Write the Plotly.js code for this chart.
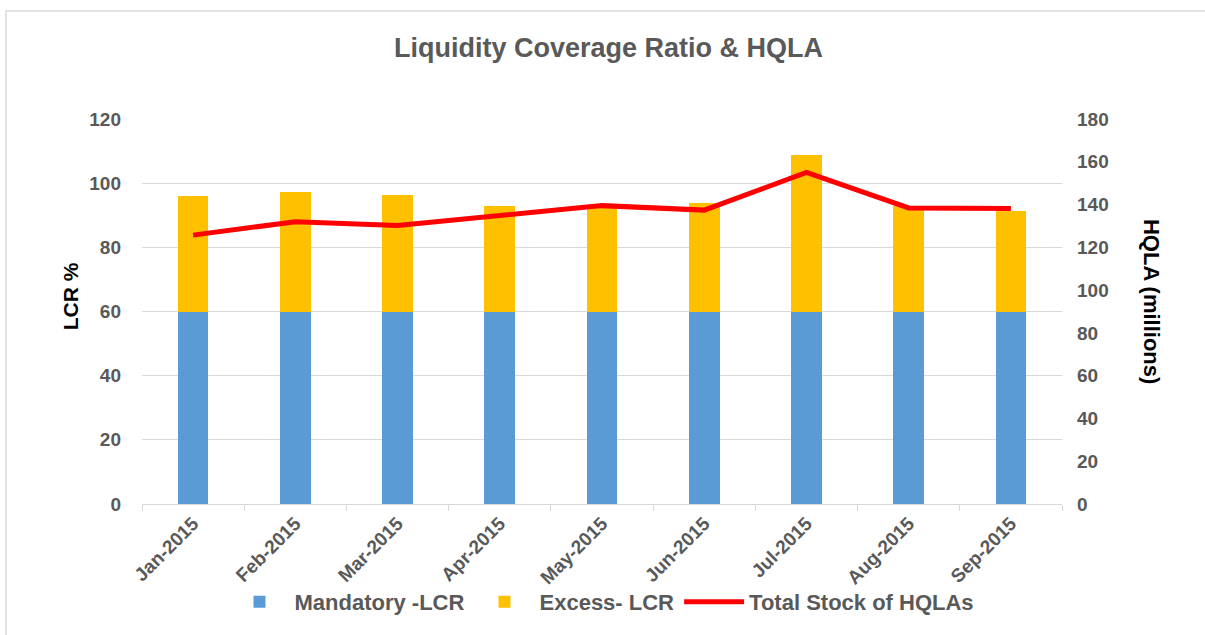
<!DOCTYPE html>
<html>
<head>
<meta charset="utf-8">
<script src="https://cdn.plot.ly/plotly-3.0.1.min.js"></script>
<style>
  html, body { margin: 0; padding: 0; background: #fff; }
  #frame { position: absolute; left: 5px; top: 10px; width: 1200px; height: 625px;
           border-left: 2px solid #e3e3e3; border-top: 2px solid #e3e3e3; }
  #myDiv { position: absolute; left: 0; top: 0; width: 1205px; height: 635px; }
</style>
</head>
<body>
<div id="frame"></div>
<div id="myDiv"></div>
<script>
var months = ['Jan-2015', 'Feb-2015', 'Mar-2015', 'Apr-2015', 'May-2015',
              'Jun-2015', 'Jul-2015', 'Aug-2015', 'Sep-2015'];
var mandatory = [60, 60, 60, 60, 60, 60, 60, 60, 60];
var excess = [36, 37.3, 36.2, 33, 32.3, 33.9, 48.8, 33, 31.3];
var hqla = [125.7, 132, 130.2, 134.9, 139.5, 137.4, 155, 138.4, 138.1];

var grey = '#595959';
var fam = 'Liberation Sans, Arial, sans-serif';
var tickFont = {family: fam, size: 19, color: grey, weight: 'bold'};

var data = [
  {
    x: months, y: mandatory, type: 'bar', name: 'Mandatory -LCR',
    marker: {color: '#5B9BD5'}, width: 0.3
  },
  {
    x: months, y: excess, type: 'bar', name: 'Excess- LCR',
    marker: {color: '#FFC000'}, width: 0.3
  },
  {
    x: months, y: hqla, type: 'scatter', mode: 'lines', name: 'Total Stock of HQLAs',
    yaxis: 'y2', line: {color: '#FF0000', width: 5}
  }
];

var layout = {
  width: 1205, height: 635,
  paper_bgcolor: 'rgba(0,0,0,0)', plot_bgcolor: 'rgba(0,0,0,0)',
  margin: {l: 142, r: 143, t: 119, b: 129},
  barmode: 'stack',
  showlegend: true,
  title: {
    text: 'Liquidity Coverage Ratio &amp; HQLA',
    x: 0.505, xanchor: 'center', y: 0.925, yanchor: 'middle',
    font: {family: fam, size: 27, color: grey, weight: 'bold'}
  },
  xaxis: {
    type: 'category', tickangle: -45, tickfont: tickFont, automargin: false,
    showline: true, linecolor: '#d9d9d9', linewidth: 1,
    ticks: 'outside', tickson: 'boundaries', ticklen: 6, tickcolor: '#d9d9d9',
    showgrid: false, zeroline: false
  },
  yaxis: {
    range: [0, 120], dtick: 20, tickfont: tickFont, automargin: false,
    gridcolor: '#d9d9d9', zeroline: false, ticks: '',
    ticklabelstandoff: 20
  },
  yaxis2: {
    range: [0, 180], dtick: 20, overlaying: 'y', side: 'right', automargin: false,
    tickfont: tickFont, showgrid: false, zeroline: false, ticks: '',
    ticklabelstandoff: 14
  },
  legend: {
    orientation: 'h', x: 0.5, xanchor: 'center', y: -0.2, yanchor: 'top',
    traceorder: 'normal',
    font: {family: fam, size: 22, color: grey, weight: 'bold'},
    itemwidth: 60
  },
  annotations: [
    {
      text: 'LCR %', xref: 'paper', yref: 'paper', x: -0.078, y: 0.54,
      showarrow: false, textangle: -90, xanchor: 'center', yanchor: 'middle',
      font: {family: fam, size: 21, color: '#000', weight: 'bold'}
    },
    {
      text: 'HQLA (millions)', xref: 'paper', yref: 'paper', x: 1.098, y: 0.527,
      showarrow: false, textangle: 90, xanchor: 'center', yanchor: 'middle',
      font: {family: fam, size: 22, color: '#000', weight: 'bold'}
    }
  ]
};

Plotly.newPlot('myDiv', data, layout, {displayModeBar: false});
</script>
</body>
</html>
